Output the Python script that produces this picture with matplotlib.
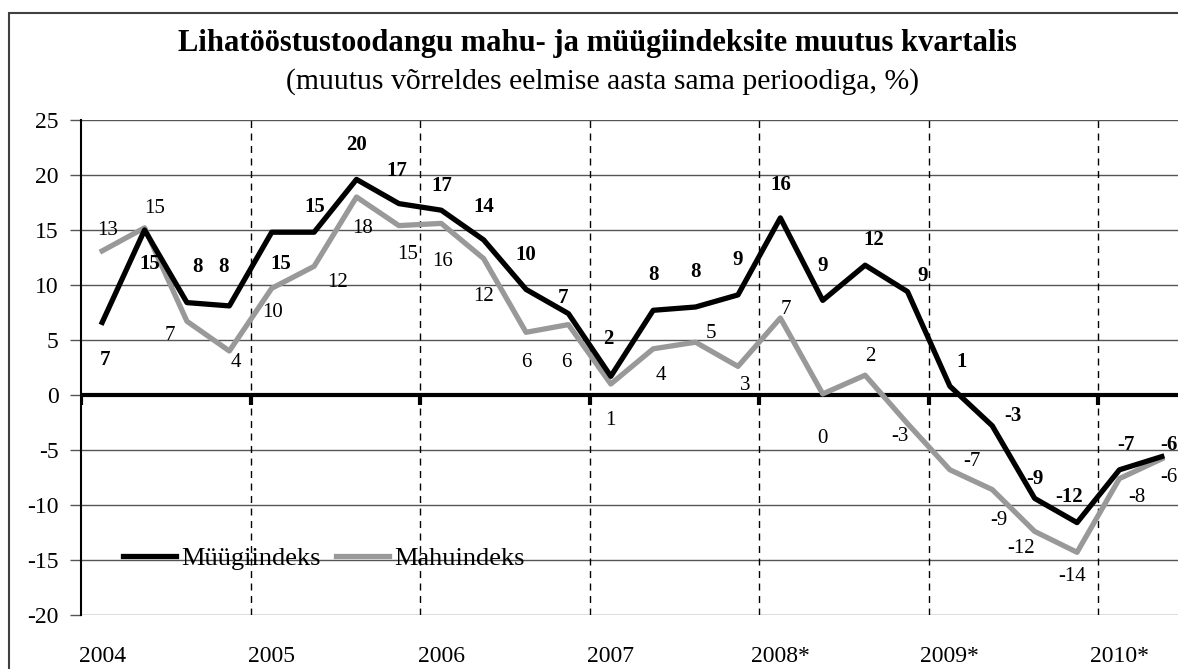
import matplotlib
matplotlib.use('Agg')
import matplotlib.pyplot as plt
from matplotlib.patches import Rectangle

# kvartalid 2004 I ... 2010 II
years = ['2004', '2005', '2006', '2007', '2008*', '2009*', '2010*']
muugi = [6.6, 15.0, 8.4, 8.1, 14.8, 14.8, 19.6, 17.4, 16.8, 14.1, 9.6, 7.4, 1.7,
         7.7, 8.0, 9.1, 16.1, 8.6, 11.8, 9.4, 0.8, -2.8, -9.4, -11.6, -6.8, -5.6]
mahu = [13.1, 15.2, 6.7, 4.0, 9.7, 11.7, 18.0, 15.4, 15.6, 12.4, 5.7, 6.4, 1.0,
        4.2, 4.8, 2.6, 7.0, 0.1, 1.8, -2.6, -6.8, -8.6, -12.4, -14.3, -7.6, -5.8]

# sildi nihked pikslites (dx, dy)
muugi_off = [(3, -35), (5, -31), (11, 39), (-6, 42), (9, -29), (1, 28), (0, 37), (-2, 36),
             (1, 27), (0, 36), (0, 37), (-5, 19), (-2, 40), (0, 38), (0, 38), (0, 38),
             (0, 36), (0, 37), (9, 28), (15, 19), (12, 27), (21, 13), (0, 22), (-8, 29),
             (7, 28), (7, 15)]
mahu_off = [(5, 23), (10, 22), (-17, -11), (7, -9), (1, -21), (23, -13), (6, -29), (9, -26),
            (1, -35), (0, -35), (0, -27), (-2, -35), (0, -34), (8, -24), (15, 12), (7, -16),
            (6, 11), (0, -42), (5, 22), (-8, -10), (22, 11), (7, -28), (-14, -14), (-5, -21),
            (17, -16), (7, -16)]

plt.rcParams['font.family'] = 'Liberation Serif'
plt.rcParams['axes.unicode_minus'] = False

W, H = 1178, 669
fig = plt.figure(figsize=(W / 100, H / 100), dpi=100)
ax = fig.add_axes([81 / W, 1 - 615 / H, 1102 / W, 495 / H])

n = len(muugi)
x = [q + 0.5 for q in range(n)]
starts = list(range(0, n, 4))

ax.set_xlim(0, n)
ax.set_ylim(-20, 25)
ax.set_yticks(range(-20, 30, 5))
ax.yaxis.grid(True, color='#555555', lw=1)
ax.set_axisbelow(True)

ax.vlines(starts[1:], -20, 25, colors='black', linestyles=(0, (5, 4)), lw=1, zorder=1)
ax.axhline(0, color='black', lw=3, zorder=2)
ax.vlines(starts, -0.9, 0, colors='black', lw=3, zorder=2)

l_mahu, = ax.plot(x, mahu, color='#999999', lw=3.8, label='Mahuindeks', zorder=3)
l_muugi, = ax.plot(x, muugi, color='black', lw=3.8, label='Müügiindeks', zorder=4)

for xi, v, (dx, dy) in zip(x, muugi, muugi_off):
    ax.annotate(f'{round(v):.0f}', (xi, v), xytext=(dx, dy - 3), textcoords='offset pixels',
                ha='center', va='center', fontsize=15, fontweight='bold', zorder=5)
for xi, v, (dx, dy) in zip(x, mahu, mahu_off):
    ax.annotate(f'{round(v):.0f}', (xi, v), xytext=(dx, dy - 3), textcoords='offset pixels',
                ha='center', va='center', fontsize=15, zorder=5)

ax.set_xticks([s + 0.5 for s in starts], years)
ax.tick_params(axis='x', length=0, labelsize=17, pad=22)
ax.tick_params(axis='y', length=8, color='#555555', width=1, labelsize=17, pad=8)

for s in ['top', 'right', 'bottom']:
    ax.spines[s].set_visible(False)
ax.spines['left'].set_linewidth(1.5)

ax.legend(handles=[l_muugi, l_mahu], loc='center left',
          bbox_to_anchor=((123 - 81) / 1102, (615 - 558) / 495), ncol=2, frameon=False,
          fontsize=19, handlelength=2.0, handletextpad=0.2, columnspacing=0.6,
          borderpad=0, borderaxespad=0)

fig.patches.append(Rectangle((9 / W, -0.05), 1.1, 1.05 - 13 / H, transform=fig.transFigure,
                             fill=False, ec='#404040', lw=1.5))

fig.text(597 / W, 1 - 44 / H, 'Lihatööstustoodangu mahu- ja müügiindeksite muutus kvartalis',
         ha='center', va='center', fontsize=22, fontweight='bold')
fig.text(603 / W, 1 - 82 / H, '(muutus võrreldes eelmise aasta sama perioodiga, %)',
         ha='center', va='center', fontsize=21.4)

fig.savefig('out.png', dpi=100)
